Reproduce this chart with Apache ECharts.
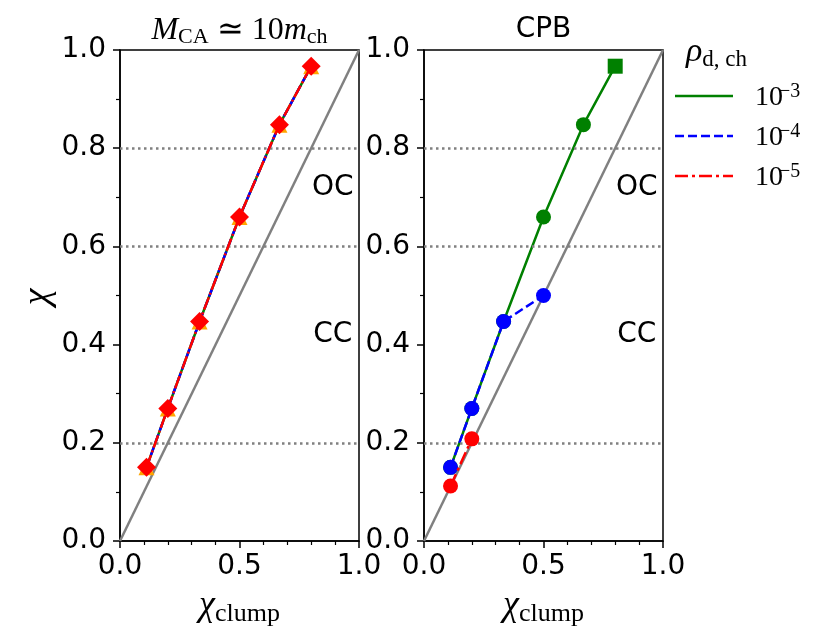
<!DOCTYPE html>
<html>
<head>
<meta charset="utf-8">
<script src="https://cdn.jsdelivr.net/npm/echarts@6/dist/echarts.min.js"></script>
<style>html,body{margin:0;padding:0;background:#fff}#c{width:831px;height:643px}</style>
</head>
<body>
<div id="c"></div>
<script>
// ---- data ----
const xClump = [0.111, 0.2, 0.333, 0.5, 0.667, 0.8];
const leftGreen = [0.15, 0.27, 0.447, 0.66, 0.848, 0.967];
const leftBlue = [0.15, 0.27, 0.447, 0.66, 0.848, 0.967];
const leftOrange = [0.15, 0.27, 0.447, 0.66, 0.848, 0.967];
const leftRed = [0.15, 0.27, 0.447, 0.66, 0.848, 0.967];
const rightGreen = [0.15, 0.27, 0.447, 0.66, 0.848, 0.967];
const rightBlue = [0.15, 0.27, 0.447, 0.5];
const rightRed = [0.112, 0.208];
const diagonal = [[0, 0], [1, 1]];
const refLevels = [0.2, 0.6, 0.8];
const regionLabels = [{name: 'OC', x: 0.89, y: 0.72}, {name: 'CC', x: 0.89, y: 0.42}];
const legendLabels = ['\u22123', '\u22124', '\u22125'];
const xTicks = {min: 0, max: 1, interval: 0.5};
const yTicks = {min: 0, max: 1, interval: 0.2};

const GREEN = '#008000', BLUE = '#0000ff', RED = '#ff0000', ORANGE = '#ffa500', GREY = '#808080';
const SANS = '"DejaVu Sans", sans-serif';
const SERIF = '"Liberation Serif", "Times New Roman", serif';

const pairs = (xs, ys) => ys.map((y, i) => [xs[i], y]);

// ---- text measurement for math-like labels ----
const mctx = document.createElement('canvas').getContext('2d');
function fontStr(p) { return (p.it ? 'italic ' : '') + p.size + 'px ' + (p.fam || SERIF); }
function midOffset(font, size) {
  mctx.font = font;
  mctx.textBaseline = 'alphabetic';
  const a = mctx.measureText('Hg').fontBoundingBoxAscent;
  mctx.textBaseline = 'middle';
  const b = mctx.measureText('Hg').fontBoundingBoxAscent;
  mctx.textBaseline = 'alphabetic';
  if (typeof a === 'number' && typeof b === 'number') return a - b;
  return 0.3 * size;
}
function mathRow(parts, x0, baseY, anchor) {
  const ws = parts.map(p => { mctx.font = fontStr(p); return mctx.measureText(p.t).width; });
  const total = ws.reduce((s, w) => s + w, 0);
  let x = anchor === 'center' ? x0 - total / 2 : x0;
  const els = [];
  parts.forEach((p, i) => {
    const f = fontStr(p);
    const y = baseY + (p.dy || 0) - midOffset(f, p.size);
    els.push({type: 'text', x: x, y: y, silent: true, z: 100,
      style: {text: p.t, font: f, fill: '#000', align: 'left', textAlign: 'left', verticalAlign: 'middle', textVerticalAlign: 'middle'}});
    x += ws[i];
  });
  return els;
}

const grids = [
  {left: 120, top: 50, width: 239, height: 491},
  {left: 424, top: 50, width: 239, height: 491}
];

function mkX(i) {
  return {type: 'value', gridIndex: i, min: xTicks.min, max: xTicks.max, interval: xTicks.interval,
    axisLine: {show: true, onZero: false, lineStyle: {color: '#000', width: 1.5}},
    axisTick: {show: true, inside: false, length: 7, lineStyle: {color: '#000', width: 1.5}},
    minorTick: {show: true, splitNumber: 5, length: 4, lineStyle: {color: '#000', width: 1.2}},
    axisLabel: {show: true, margin: 12, fontSize: 28, fontFamily: SANS, color: '#000', showMinLabel: true, showMaxLabel: true,
      formatter: v => v.toFixed(1)},
    splitLine: {show: false}, minorSplitLine: {show: false}};
}
function mkY(i) {
  return {type: 'value', gridIndex: i, min: yTicks.min, max: yTicks.max, interval: yTicks.interval,
    axisLine: {show: true, onZero: false, lineStyle: {color: '#000', width: 1.5}},
    axisTick: {show: true, inside: false, length: 7, lineStyle: {color: '#000', width: 1.5}},
    minorTick: {show: true, splitNumber: 2, length: 4, lineStyle: {color: '#000', width: 1.2}},
    axisLabel: {show: true, margin: 14, fontSize: 28, fontFamily: SANS, color: '#000', showMinLabel: true, showMaxLabel: true,
      formatter: v => v.toFixed(1)},
    splitLine: {show: false}, minorSplitLine: {show: false}};
}

function baseSeries(i) {
  return [
    {type: 'line', xAxisIndex: i, yAxisIndex: i, data: diagonal, symbol: 'none', silent: true, z: 1,
      lineStyle: {color: GREY, width: 2.5},
      markLine: {silent: true, symbol: ['none', 'none'], label: {show: false},
        lineStyle: {color: GREY, width: 2.5, type: [2.5, 3.5]},
        data: refLevels.map(v => ({yAxis: v}))}},
    {type: 'scatter', xAxisIndex: i, yAxisIndex: i, symbolSize: 0, silent: true, z: 2,
      itemStyle: {opacity: 1, color: '#000'},
      data: regionLabels.map(r => ({name: r.name, value: [r.x, r.y]})),
      label: {show: true, position: 'inside', formatter: p => p.name, fontSize: 28, fontFamily: SANS,
        color: '#000', opacity: 1, textBorderWidth: 0}}
  ];
}

const series = [
  ...baseSeries(0),
  {type: 'line', name: 'g0', xAxisIndex: 0, yAxisIndex: 0, data: pairs(xClump, leftGreen), showSymbol: false, symbol: 'none', z: 3,
    lineStyle: {color: GREEN, width: 2.5}},
  {type: 'line', name: 'b0', xAxisIndex: 0, yAxisIndex: 0, data: pairs(xClump, leftBlue), symbol: 'none', z: 4,
    lineStyle: {color: BLUE, width: 2.5, type: [9, 4]}},
  {type: 'scatter', name: 'o0', xAxisIndex: 0, yAxisIndex: 0, data: pairs(xClump, leftOrange), symbol: 'triangle', symbolSize: 16, z: 5,
    itemStyle: {color: ORANGE, opacity: 1}},
  {type: 'line', name: 'r0', xAxisIndex: 0, yAxisIndex: 0, data: pairs(xClump, leftRed), symbol: 'diamond', symbolSize: 19, showSymbol: true, z: 6,
    itemStyle: {color: RED, opacity: 1}, lineStyle: {color: RED, width: 2.5, type: [13, 3, 2, 3]}},
  ...baseSeries(1),
  {type: 'line', name: 'g1', xAxisIndex: 1, yAxisIndex: 1, z: 3,
    data: pairs(xClump, rightGreen).map((d, i, a) => i === a.length - 1 ? {value: d, symbol: 'rect'} : d),
    symbol: 'circle', symbolSize: 15, showSymbol: true,
    itemStyle: {color: GREEN, opacity: 1}, lineStyle: {color: GREEN, width: 2.5}},
  {type: 'line', name: 'b1', xAxisIndex: 1, yAxisIndex: 1, z: 4, data: pairs(xClump, rightBlue),
    symbol: 'circle', symbolSize: 15, showSymbol: true,
    itemStyle: {color: BLUE, opacity: 1}, lineStyle: {color: BLUE, width: 2.5, type: [9, 4]}},
  {type: 'line', name: 'r1', xAxisIndex: 1, yAxisIndex: 1, z: 5, data: pairs(xClump, rightRed),
    symbol: 'circle', symbolSize: 15, showSymbol: true,
    itemStyle: {color: RED, opacity: 1}, lineStyle: {color: RED, width: 2.5, type: [13, 4, 3, 4]}}
];

// ---- text and legend graphics ----
let graphic = [];
const cL = grids[0].left + grids[0].width / 2;
const cR = grids[1].left + grids[1].width / 2;
graphic = graphic.concat(mathRow([
  {t: 'M', size: 32, it: true}, {t: 'CA', size: 22, dy: 4}, {t: ' \u2243 ', size: 32}, {t: '10', size: 32},
  {t: 'm', size: 32, it: true}, {t: 'ch', size: 22, dy: 4}], cL, 39, 'center'));
graphic = graphic.concat(mathRow([{t: 'CPB', size: 28, fam: SANS}], cR, 37, 'center'));
[cL, cR].forEach(c => {
  graphic = graphic.concat(mathRow([{t: '\u03c7', size: 36, it: true}, {t: 'clump', size: 26, dy: 6}], c, 615, 'center'));
});
graphic.push({type: 'text', x: 38, y: 297, rotation: Math.PI / 2, silent: true,
  style: {text: '\u03c7', font: 'italic 38px ' + SERIF, fill: '#000', align: 'center', textAlign: 'center', verticalAlign: 'middle', textVerticalAlign: 'middle'}});
// legend title
graphic = graphic.concat(mathRow([{t: '\u03c1', size: 34, it: true}, {t: 'd, ch', size: 23, dy: 5}], 686, 61, 'left'));
// legend entries
const legendRows = [96, 136, 176];
const legendStyles = [
  {color: GREEN, dash: null}, {color: BLUE, dash: [9, 4]}, {color: RED, dash: [13, 4, 3, 4]}
];
legendRows.forEach((ry, i) => {
  graphic.push({type: 'line', silent: true, shape: {x1: 675, y1: ry, x2: 733, y2: ry},
    style: {stroke: legendStyles[i].color, lineWidth: 2.5, lineDash: legendStyles[i].dash}});
  graphic = graphic.concat(mathRow([{t: '10', size: 28}], 755, ry + 9, 'left'));
  graphic = graphic.concat(mathRow([{t: legendLabels[i], size: 20}], 779, ry + 1, 'left'));
});

const chart = echarts.init(document.getElementById('c'), null, {renderer: 'canvas'});
chart.setOption({
  animation: false,
  backgroundColor: '#fff',
  grid: grids.map(g => Object.assign({show: true, borderColor: '#000', borderWidth: 1.5, backgroundColor: 'transparent', containLabel: false, outerBoundsMode: 'none'}, g)),
  xAxis: [mkX(0), mkX(1)],
  yAxis: [mkY(0), mkY(1)],
  series: series,
  graphic: {elements: graphic}
});
</script>
</body>
</html>
